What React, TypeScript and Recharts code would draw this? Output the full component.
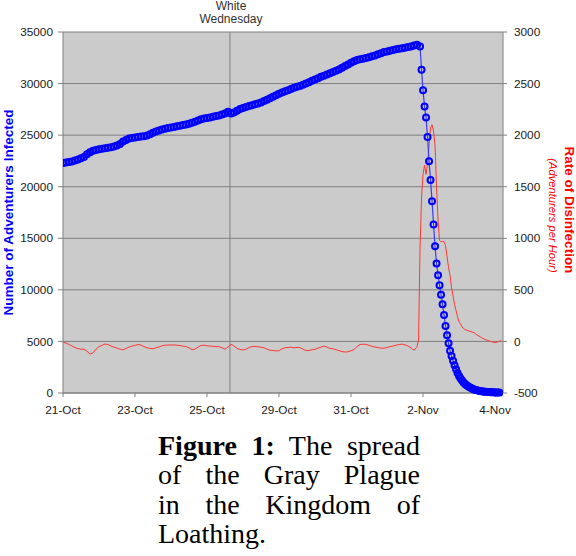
import React from 'react';
import { ComposedChart, Line, XAxis, YAxis, CartesianGrid, ReferenceLine } from 'recharts';

// ---- categories / ticks ----
const dateLabels = ['21-Oct', '23-Oct', '25-Oct', '29-Oct', '31-Oct', '2-Nov', '4-Nov'];
const dateTickHours = [0, 48, 96, 144, 192, 240, 288];
const lastHour = 293.3;
const whiteWednesdayHour = 111.3;
const infectedTicks = [0, 5000, 10000, 15000, 20000, 25000, 30000, 35000];
const rateTicks = [-500, 0, 500, 1000, 1500, 2000, 2500, 3000];

// ---- Number of adventurers infected ----
// sampled every 2 hours from hour 0 to hour 236
const infectedEvery2h = [
  22300, 22350, 22390, 22450, 22530, 22640, 22760, 22880, 23140, 23330,
  23480, 23560, 23640, 23690, 23730, 23770, 23830, 23900, 23990, 24150,
  24380, 24540, 24680, 24730, 24770, 24820, 24860, 24900, 24960, 25090,
  25220, 25350, 25460, 25540, 25610, 25690, 25750, 25800, 25860, 25920,
  25980, 26040, 26110, 26200, 26300, 26420, 26540, 26610, 26670, 26720,
  26780, 26850, 26900, 26990, 27110, 27260, 27100, 27200, 27360, 27540,
  27640, 27740, 27830, 27900, 27990, 28070, 28170, 28300, 28420, 28570,
  28730, 28870, 29010, 29140, 29250, 29360, 29480, 29590, 29680, 29770,
  29890, 30010, 30140, 30270, 30400, 30520, 30650, 30770, 30880, 31000,
  31120, 31250, 31370, 31540, 31700, 31860, 32020, 32170, 32290, 32350,
  32410, 32480, 32560, 32640, 32730, 32840, 32950, 33050, 33120, 33190,
  33260, 33320, 33380, 33430, 33480, 33540, 33600, 33690, 33760,
];
// hourly from hour 238 to hour 291
const infectedHourlyFrom238 = [
  33600, 31330, 29360, 27770, 26700, 24830, 22470, 20660, 18600, 16330,
  14230, 12550, 11420, 10450, 9530, 8600, 7570, 6500, 5590, 4820,
  4100, 3590, 3130, 2690, 2300, 1950, 1650, 1400, 1200, 1030,
  880, 760, 650, 560, 480, 410, 350, 300, 260, 225,
  195, 170, 150, 130, 115, 100, 90, 80, 72, 65,
  58, 52, 47, 42,
];

// ---- Rate of disinfection (adventurers per hour) ----
// every 2 hours from hour 0 to hour 232
const rateEvery2h = [
  -10, -15, -30, -45, -60, -70, -75, -76, -95, -122,
  -112, -75, -50, -38, -25, -30, -45, -55, -65, -75,
  -82, -68, -55, -45, -38, -30, -35, -50, -62, -67,
  -71, -62, -53, -42, -36, -35, -35, -34, -36, -40,
  -45, -50, -62, -80, -75, -55, -40, -36, -42, -45,
  -47, -50, -51, -62, -75, -55, -28, -45, -67, -78,
  -83, -75, -60, -50, -48, -52, -56, -62, -75, -85,
  -88, -92, -90, -72, -62, -58, -55, -62, -58, -60,
  -75, -88, -88, -80, -77, -65, -55, -45, -55, -68,
  -72, -80, -90, -98, -103, -100, -90, -78, -50, -30,
  -27, -28, -38, -48, -55, -60, -65, -66, -58, -51,
  -44, -36, -30, -26, -33, -45, -62,
];
// hourly from hour 233 to hour 268
const rateHourlyFrom233 = [
  -78, -83, -70, -50, 14, 900, 1400, 1620, 1710, 1620,
  1720, 1900, 2070, 2100, 2040, 1900, 1500, 1180, 980, 965,
  970, 968, 930, 820, 720, 640, 520, 440, 360, 300,
  240, 190, 170, 140, 125, 115,
];
// every 2 hours from hour 270 to hour 292
const rateEvery2hFrom270 = [105, 95, 85, 62, 46, 28, 15, 5, -5, -10, -5, 10];

const infectedData = [
  ...infectedEvery2h.map((v, i) => ({ hour: i * 2, infected: v })),
  ...infectedHourlyFrom238.map((v, i) => ({ hour: 238 + i, infected: v })),
];
const rateData = [
  ...rateEvery2h.map((v, i) => ({ hour: i * 2, rate: v })),
  ...rateHourlyFrom233.map((v, i) => ({ hour: 233 + i, rate: v })),
  ...rateEvery2hFrom270.map((v, i) => ({ hour: 270 + i * 2, rate: v })),
];

const SANS = '"Liberation Sans", Arial, Helvetica, sans-serif';
const tickStyle = { fill: '#1a1a1a', fontSize: 11.8, fontFamily: SANS };
const axisGray = '#808080';

export default function App() {
  return (
    <div style={{ position: 'absolute', left: 0, top: 0, width: 576, height: 556, background: '#fff' }}>
      <ComposedChart width={576} height={420} margin={{ top: 32, right: 0, left: 0, bottom: 0 }}>
        <CartesianGrid vertical={false} stroke={axisGray} fill="#cbcbcb" fillOpacity={1} />
        <XAxis
          dataKey="hour"
          type="number"
          domain={[0, lastHour]}
          allowDataOverflow
          ticks={dateTickHours}
          interval={0}
          tickFormatter={(v: number) => dateLabels[dateTickHours.indexOf(v)] ?? ''}
          height={27}
          tickSize={4}
          tickMargin={9}
          tick={tickStyle}
          axisLine={{ stroke: axisGray }}
          tickLine={{ stroke: axisGray }}
        />
        <YAxis
          domain={[0, 35000]}
          ticks={infectedTicks}
          interval={0}
          width={63}
          tickSize={5}
          tickMargin={5}
          tick={tickStyle}
          axisLine={{ stroke: axisGray }}
          tickLine={{ stroke: axisGray }}
          label={(p: any) => {
            const vb = p.viewBox || { x: 0, y: 32, height: 361 };
            const x = vb.x + 8;
            const y = vb.y + vb.height / 2;
            return (
              <text
                x={x}
                y={y}
                transform={`rotate(-90 ${x} ${y})`}
                textAnchor="middle"
                dominantBaseline="central"
                fill="#0000ff"
                fontWeight="bold"
                fontSize={13.5}
                fontFamily={SANS}
              >
                Number of Adventurers Infected
              </text>
            );
          }}
        />
        <YAxis
          yAxisId="rate"
          orientation="right"
          domain={[-500, 3000]}
          ticks={rateTicks}
          interval={0}
          width={73}
          tickSize={4}
          tickMargin={7}
          tick={tickStyle}
          axisLine={{ stroke: axisGray }}
          tickLine={{ stroke: axisGray }}
          label={(p: any) => {
            const vb = p.viewBox || { x: 503, y: 32, height: 361 };
            const x1 = vb.x + 66;
            const y1 = vb.y + 178;
            const x2 = vb.x + 50;
            const y2 = vb.y + 183.5;
            return (
              <g>
                <text
                  x={x1}
                  y={y1}
                  transform={`rotate(90 ${x1} ${y1})`}
                  textAnchor="middle"
                  dominantBaseline="central"
                  fill="#ff0000"
                  fontWeight="bold"
                  fontSize={13.5}
                  fontFamily={SANS}
                >
                  Rate of Disinfection
                </text>
                <text
                  x={x2}
                  y={y2}
                  transform={`rotate(90 ${x2} ${y2})`}
                  textAnchor="middle"
                  dominantBaseline="central"
                  fill="#ff0000"
                  fontStyle="italic"
                  fontSize={11.2}
                  fontFamily={SANS}
                >
                  (Adventurers per Hour)
                </text>
              </g>
            );
          }}
        />
        <ReferenceLine
          x={whiteWednesdayHour}
          stroke={axisGray}
          strokeWidth={1}
          label={(p: any) => {
            const vb = p.viewBox || { x: 230 };
            const cx = vb.x + 1;
            return (
              <text textAnchor="middle" fill="#333" fontSize={12} fontFamily={SANS}>
                <tspan x={cx} y={10}>White</tspan>
                <tspan x={cx} y={22.5}>Wednesday</tspan>
              </text>
            );
          }}
        />
        <Line
          yAxisId="rate"
          data={rateData}
          dataKey="rate"
          type="linear"
          stroke="#ff3838"
          strokeWidth={1}
          dot={false}
          activeDot={false}
          isAnimationActive={false}
        />
        <Line
          data={infectedData}
          dataKey="infected"
          type="linear"
          stroke="#3a3aff"
          strokeWidth={1.2}
          dot={{ r: 3, stroke: '#0000ff', strokeWidth: 2, fill: 'none' }}
          activeDot={false}
          isAnimationActive={false}
        />
      </ComposedChart>
      <div
        style={{
          position: 'absolute',
          left: 158,
          top: 431,
          width: 262,
          fontFamily: '"Liberation Serif", "Times New Roman", Times, serif',
          fontSize: 28,
          lineHeight: '29.3px',
          color: '#000',
        }}
      >
        <div style={{ textAlign: 'justify', textAlignLast: 'justify' }}>
          <b>Figure 1:</b> The spread
        </div>
        <div style={{ textAlign: 'justify', textAlignLast: 'justify' }}>of the Gray Plague</div>
        <div style={{ textAlign: 'justify', textAlignLast: 'justify' }}>in the Kingdom of</div>
        <div style={{ textAlign: 'left' }}>Loathing.</div>
      </div>
    </div>
  );
}
